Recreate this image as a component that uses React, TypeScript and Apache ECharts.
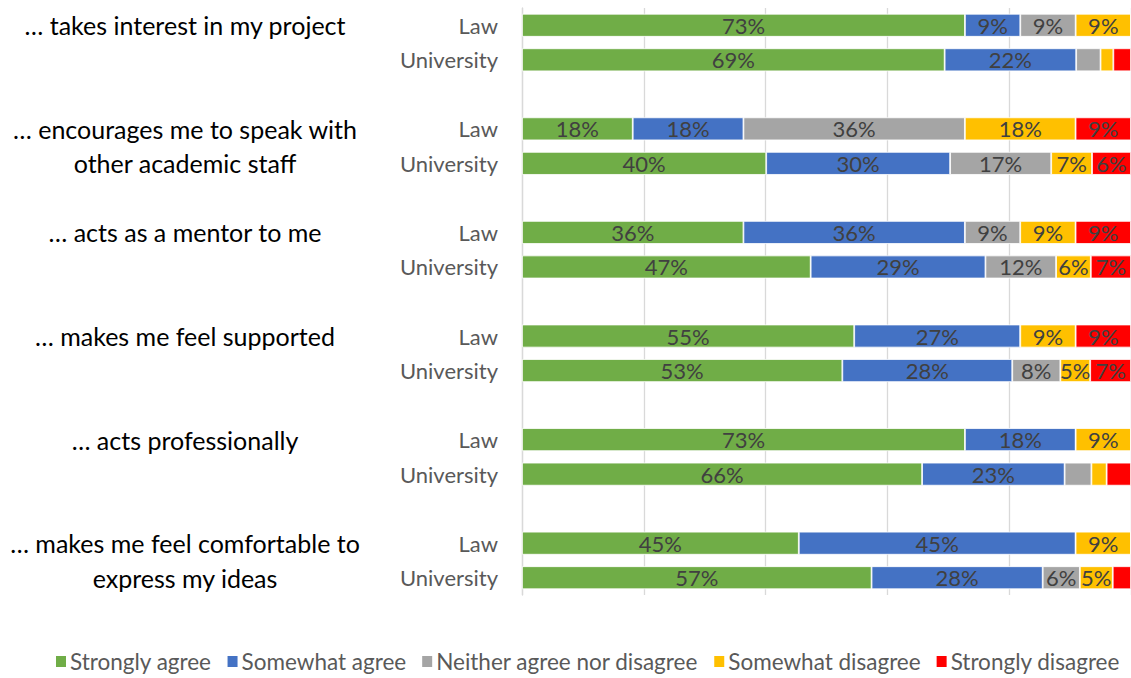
import React, { useEffect, useRef } from "react";
import * as echarts from "echarts";

const rows = ["Law", "University", "", "Law", "University", "", "Law", "University", "", "Law", "University", "", "Law", "University", "", "Law", "University"];
const groupLines = [
  "… takes interest in my project", "", "",
  "… encourages me to speak with", "other academic staff", "",
  "… acts as a mentor to me", "", "",
  "… makes me feel supported", "", "",
  "… acts professionally", "", "",
  "… makes me feel comfortable to", "express my ideas",
];
const seriesNames = ["Strongly agree", "Somewhat agree", "Neither agree nor disagree", "Somewhat disagree", "Strongly disagree"];
const colors = ["#70AD47", "#4472C4", "#A5A5A5", "#FFC000", "#FF0000"];

const stronglyAgree = [72.73, 69.4, null, 18.18, 40.1, null, 36.36, 47.4, null, 54.55, 52.6, null, 72.73, 65.7, null, 45.45, 57.4];
const somewhatAgree = [9.09, 21.6, null, 18.18, 30.2, null, 36.36, 28.7, null, 27.27, 27.9, null, 18.18, 23.4, null, 45.45, 28.1];
const neither = [9.09, 4.0, null, 36.36, 16.6, null, 9.09, 11.6, null, 0, 7.9, null, 0, 4.4, null, 0, 6.1];
const somewhatDisagree = [9.09, 2.1, null, 18.18, 6.7, null, 9.09, 5.7, null, 9.09, 4.9, null, 9.09, 2.5, null, 9.09, 5.4];
const stronglyDisagree = [0, 2.9, null, 9.09, 6.4, null, 9.09, 6.6, null, 9.09, 6.7, null, 0, 4.0, null, 0, 3.0];
const allValues = [stronglyAgree, somewhatAgree, neither, somewhatDisagree, stronglyDisagree];

const FONT = "Lato";

export default function App() {
  const ref = useRef<HTMLDivElement>(null);
  useEffect(() => {
    document.body.style.margin = "0";
    const chart = echarts.init(ref.current!, null, { renderer: "svg" });
    chart.setOption({
      animation: false,
      textStyle: { fontFamily: FONT },
      grid: { left: 522, right: 0, top: 8, height: 587, containLabel: false },
      legend: {
        bottom: 5,
        left: 54,
        width: 1077,
        padding: 0,
        itemWidth: 12,
        itemHeight: 13,
        itemGap: 14,
        icon: "rect",
        textStyle: { fontFamily: FONT, fontSize: 22.5, color: "#595959", padding: [0, 0, 0, -2] },
        data: seriesNames,
      },
      xAxis: {
        type: "value",
        min: 0,
        max: 100,
        interval: 20,
        axisLabel: { show: false },
        axisLine: { show: false },
        axisTick: { show: false },
        splitLine: { show: true, lineStyle: { color: "#D9D9D9", width: 1.3 } },
      },
      yAxis: [
        {
          type: "category",
          inverse: true,
          data: rows,
          axisLine: { show: true, lineStyle: { color: "#D9D9D9", width: 1.3 } },
          axisTick: { show: false },
          axisLabel: { fontFamily: FONT, fontSize: 22, color: "#595959", margin: 24, interval: 0 },
        },
        {
          type: "category",
          inverse: true,
          position: "left",
          data: groupLines,
          axisLine: { show: false },
          axisTick: { show: false },
          axisLabel: { fontFamily: FONT, fontSize: 25, color: "#000000", margin: 337, align: "center", interval: 0 },
        },
      ],
      series: allValues.map((vals, i) => ({
        name: seriesNames[i],
        type: "bar",
        stack: "total",
        yAxisIndex: 0,
        barWidth: 23,
        data: vals,
        itemStyle: { color: colors[i], borderColor: "#ffffff", borderWidth: 0.8 },
        label: {
          show: true,
          position: "inside",
          fontFamily: FONT,
          fontSize: 22,
          color: "#404040",
          formatter: (p: any) => (p.value != null && p.value >= 4.5 ? Math.round(p.value) + "%" : ""),
        },
      })),
    });
    return () => chart.dispose();
  }, []);
  return <div ref={ref} style={{ width: 1131, height: 678 }} />;
}
